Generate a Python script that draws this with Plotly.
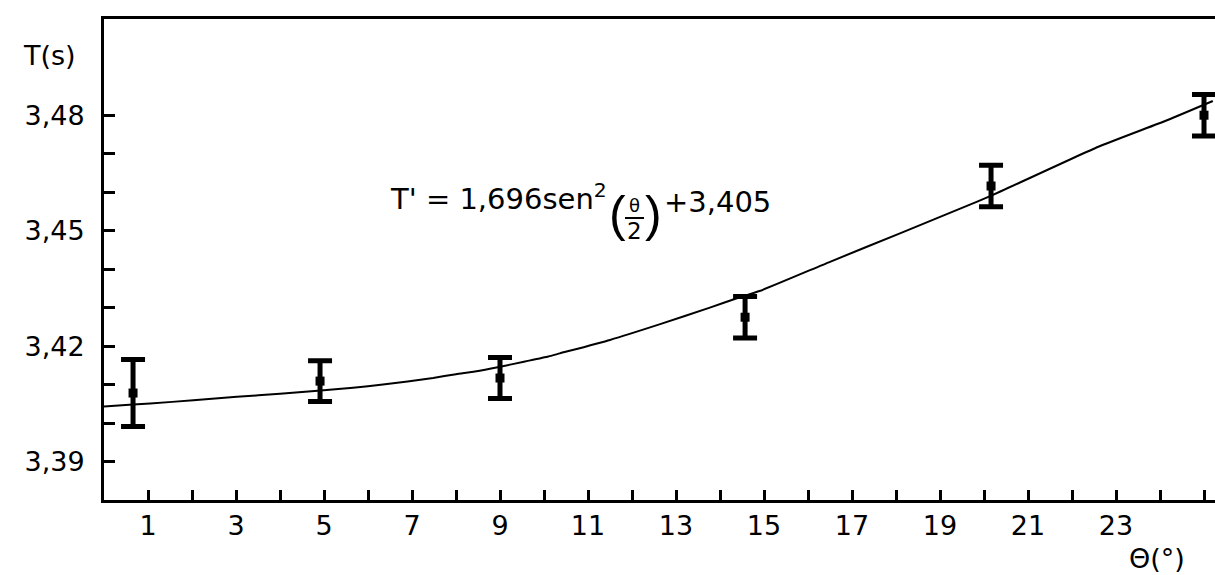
import plotly.graph_objects as go

# ---- data ----
theta = [0.66, 4.91, 9.0, 14.57, 20.16, 25.0]
period = [3.4078, 3.4109, 3.4117, 3.4275, 3.4616, 3.4800]
period_err = [0.0087, 0.0053, 0.0053, 0.0054, 0.0054, 0.0054]

# fitted curve
curve_theta = [0.0, 0.66, 1.05, 2.03, 3.02, 4.0, 4.86, 5.66, 6.34, 6.9, 7.48, 8.0,
               8.43, 8.95, 9.57, 10.1, 10.36, 11.5, 12.64, 13.77, 14.45, 14.9,
               16.5, 18.09, 19.86, 20.36, 22.6, 24.16, 25.2]
curve_T = [3.4043, 3.4048, 3.4051, 3.4059, 3.4068, 3.4076, 3.4084, 3.4092, 3.4100,
           3.4108, 3.4117, 3.4127, 3.4134, 3.4145, 3.4160, 3.4173, 3.4181, 3.4216,
           3.4257, 3.4300, 3.4327, 3.4343, 3.4419, 3.4493, 3.4576, 3.4601, 3.4718,
           3.4787, 3.4837]

y_tickvals = [3.39, 3.42, 3.45, 3.48]
y_ticktext = ["3,39", "3,42", "3,45", "3,48"]
y_minorvals = [3.40, 3.41, 3.43, 3.44, 3.46, 3.47]
x_tickvals = [1, 3, 5, 7, 9, 11, 13, 15, 17, 19, 21, 23]
x_ticktext = ["1", "3", "5", "7", "9", "11", "13", "15", "17", "19", "21", "23"]
x_minorvals = [2, 4, 6, 8, 10, 12, 14, 16, 18, 20, 22, 24, 25]

W, H = 1215, 575
L, R, T, B = 104, 0, 19, 75
FONT = "DejaVu Sans"
FS = 27
FS_EQ = 29


def px(x):
    return (x - L) / (W - L - R)


def py(y):
    return (H - B - y) / (H - T - B)


fig = go.Figure()
fig.add_trace(go.Scatter(
    x=curve_theta, y=curve_T, mode="lines",
    line=dict(color="black", width=2, shape="spline", smoothing=0.5),
    hoverinfo="skip", cliponaxis=False,
))
fig.add_trace(go.Scatter(
    x=theta, y=period, mode="markers",
    marker=dict(symbol="square", size=9, color="black"),
    error_y=dict(type="data", array=period_err, visible=True,
                 color="black", thickness=5, width=12),
    cliponaxis=False,
))

fig.update_layout(
    width=W, height=H, autosize=False,
    margin=dict(l=L, r=R, t=T, b=B, pad=0, autoexpand=False),
    paper_bgcolor="white", plot_bgcolor="white",
    showlegend=False,
    font=dict(family=FONT, size=FS, color="black"),
)
fig.update_xaxes(
    range=[0, 25.25], showgrid=False, zeroline=False, automargin=False,
    showline=True, linecolor="black", linewidth=3, mirror=True,
    ticks="inside", ticklen=10, tickwidth=3, tickcolor="black",
    tickvals=x_tickvals, ticktext=x_ticktext,
    tickfont=dict(family=FONT, size=FS, color="black"),
    ticklabelstandoff=0,
    minor=dict(tickvals=x_minorvals, ticks="inside", ticklen=10, tickwidth=3,
               tickcolor="black", showgrid=False),
)
fig.update_yaxes(
    range=[3.38, 3.505], showgrid=False, zeroline=False, automargin=False,
    showline=True, linecolor="black", linewidth=3, mirror=False,
    ticks="inside", ticklen=11, tickwidth=3, tickcolor="black",
    tickvals=y_tickvals, ticktext=y_ticktext,
    tickfont=dict(family=FONT, size=FS, color="black"),
    ticklabelstandoff=11,
    minor=dict(tickvals=y_minorvals, ticks="inside", ticklen=11, tickwidth=3,
               tickcolor="black", showgrid=False),
)

ann = dict(xref="paper", yref="paper", showarrow=False,
           font=dict(family=FONT, size=FS, color="black"))
eq = dict(xref="paper", yref="paper", showarrow=False,
          font=dict(family=FONT, size=FS_EQ, color="black"))
# axis titles
fig.add_annotation(text="T(s)", x=px(49), y=py(56), xanchor="center", yanchor="middle", **ann)
fig.add_annotation(text="Θ(°)", x=px(1157), y=py(558), xanchor="center", yanchor="middle", **ann)

# formula
fig.add_annotation(text="T' = 1,696sen<sup>2</sup>", x=px(609), y=py(197),
                   xanchor="right", yanchor="middle", **eq)
fig.add_annotation(text="+3,405", x=px(662), y=py(202),
                   xanchor="left", yanchor="middle", **eq)
big = dict(xref="paper", yref="paper", showarrow=False,
           font=dict(family="Liberation Sans", size=50, color="black"))
fig.add_annotation(text="(", x=px(617), y=py(214), xanchor="center", yanchor="middle", **big)
fig.add_annotation(text=")", x=px(653), y=py(214), xanchor="center", yanchor="middle", **big)
fig.add_annotation(text="θ", x=px(634), y=py(206), xanchor="center", yanchor="middle",
                   xref="paper", yref="paper", showarrow=False,
                   font=dict(family=FONT, size=18, color="black"))
fig.add_annotation(text="2", x=px(634), y=py(231), xanchor="center", yanchor="middle",
                   xref="paper", yref="paper", showarrow=False,
                   font=dict(family=FONT, size=23, color="black"))
fig.add_shape(type="line", xref="paper", yref="paper",
              x0=px(625), x1=px(644), y0=py(218), y1=py(218),
              line=dict(color="black", width=2))

fig.write_html("out.html", config={"displayModeBar": False},
               post_script="document.body.style.margin='0';")
